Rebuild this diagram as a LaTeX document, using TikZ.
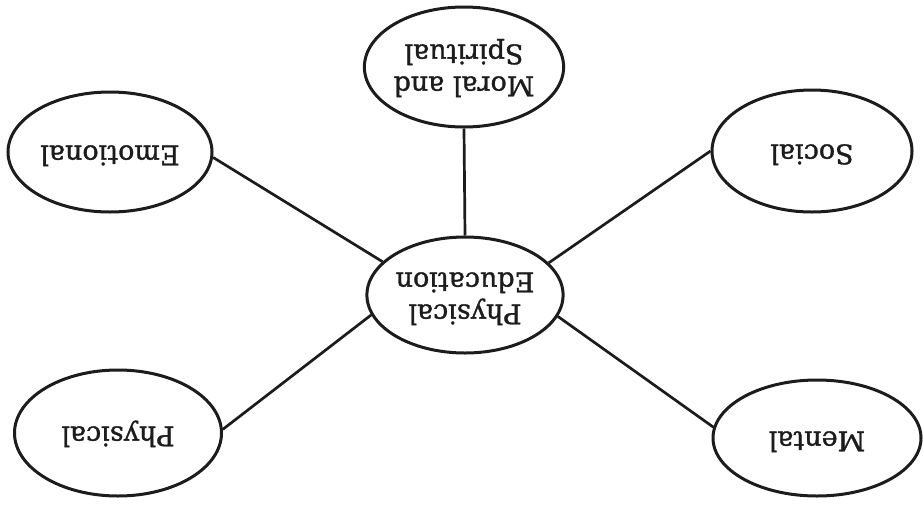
\documentclass[tikz,border=0pt]{standalone}
\usepackage{fontspec}
\setmainfont{DejaVu Serif}[FakeBold=1.2]
\usetikzlibrary{shapes.geometric}
\definecolor{ink}{HTML}{1C1C1C}
\newcommand\updown[1]{\rotatebox{180}{\begin{tabular}{@{}c@{}}#1\end{tabular}}}
\tikzset{
  aspect/.style={ellipse, draw=ink, line width=3pt, text=ink, inner sep=0pt,
    minimum width=206pt, minimum height=120pt,
    font=\fontsize{27}{32}\selectfont},
  link/.style={draw=ink, line width=2.7pt}
}
\begin{document}
\begin{tikzpicture}[x=1pt,y=-1pt]
\useasboundingbox[fill=white] (0,0) rectangle (924,507);
\node[aspect, minimum width=198pt, minimum height=120pt] (moral) at (464,67) {\updown{Moral and\\Spiritual}};
\node[aspect, minimum width=194pt, minimum height=116pt] (pe) at (465,295) {\updown{Physical\\Education}};
\node[aspect, minimum width=204pt] (emo) at (110,152) {\updown{Emotional}};
\node[aspect, minimum width=200pt, minimum height=122pt] (soc) at (812,151) {\updown{Social}};
\node[aspect, minimum width=207pt, minimum height=126pt] (phy) at (118,433) {\updown{Physical}};
\node[aspect, minimum width=208pt, minimum height=116pt] (men) at (817,438) {\updown{Mental}};
\draw[link] (moral.-90) -- (pe.90);
\draw[link] (emo.-3) -- (pe.158);
\draw[link] (soc.180) -- (pe.21);
\draw[link] (phy.2) -- (pe.192);
\draw[link] (men.174) -- (pe.-13);
\end{tikzpicture}
\end{document}
